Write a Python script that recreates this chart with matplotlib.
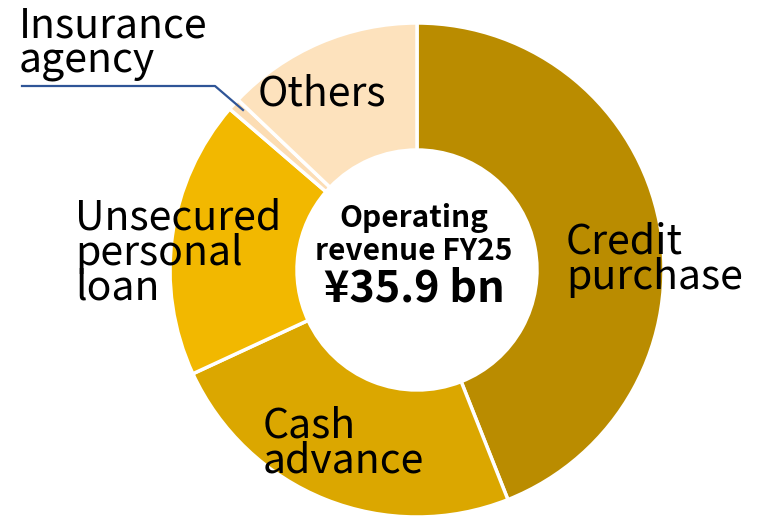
import matplotlib.pyplot as plt

plt.rcParams['font.family'] = ['Noto Sans CJK JP', 'DejaVu Sans']

labels = ['Credit\npurchase', 'Cash\nadvance', 'Unsecured\npersonal\nloan', 'Insurance\nagency', 'Others']
shares = [44.0, 24.1, 18.2, 0.8, 12.9]
colors = ['#BA8C00', '#DBA700', '#F2B800', '#FCDDB4', '#FDE2BD']

W, H = 761, 522
fig = plt.figure(figsize=(W / 100, H / 100), dpi=100)
ax = fig.add_axes([0, 0, 1, 1])

cx, cy, R = 417, H - 270, 247
ax.pie(shares, colors=colors, startangle=90, counterclock=False,
       center=(cx, cy), radius=R, frame=True,
       wedgeprops=dict(width=127, edgecolor='white', linewidth=2.5))
ax.set_xlim(0, W)
ax.set_ylim(0, H)
ax.set_aspect('equal')
ax.axis('off')

# slice labels: left edge and baseline of first line (pixels from top)
pos = {0: (566, 253), 1: (263, 437), 2: (75, 229), 4: (258, 106), 3: (19, 37)}
step = 35.5
for i, (x, y) in pos.items():
    for k, line in enumerate(labels[i].split('\n')):
        ax.text(x, H - (y + k * step), line, fontsize=29.5,
                va='baseline', ha='left', color='black')

# leader line for insurance agency
ax.plot([22, 215, 243], [H - 86, H - 86, H - 110], color='#2F5597', lw=1.6)

# centre text
ax.text(cx - 3, H - 227, 'Operating', fontsize=21.5, fontweight='bold',
        ha='center', va='baseline')
ax.text(cx - 3, H - 260, 'revenue FY25', fontsize=21.5, fontweight='bold',
        ha='center', va='baseline')
ax.text(cx - 3, H - 302, '¥35.9 bn', fontsize=31, fontweight='bold',
        ha='center', va='baseline')

fig.savefig('out.png', dpi=100)
